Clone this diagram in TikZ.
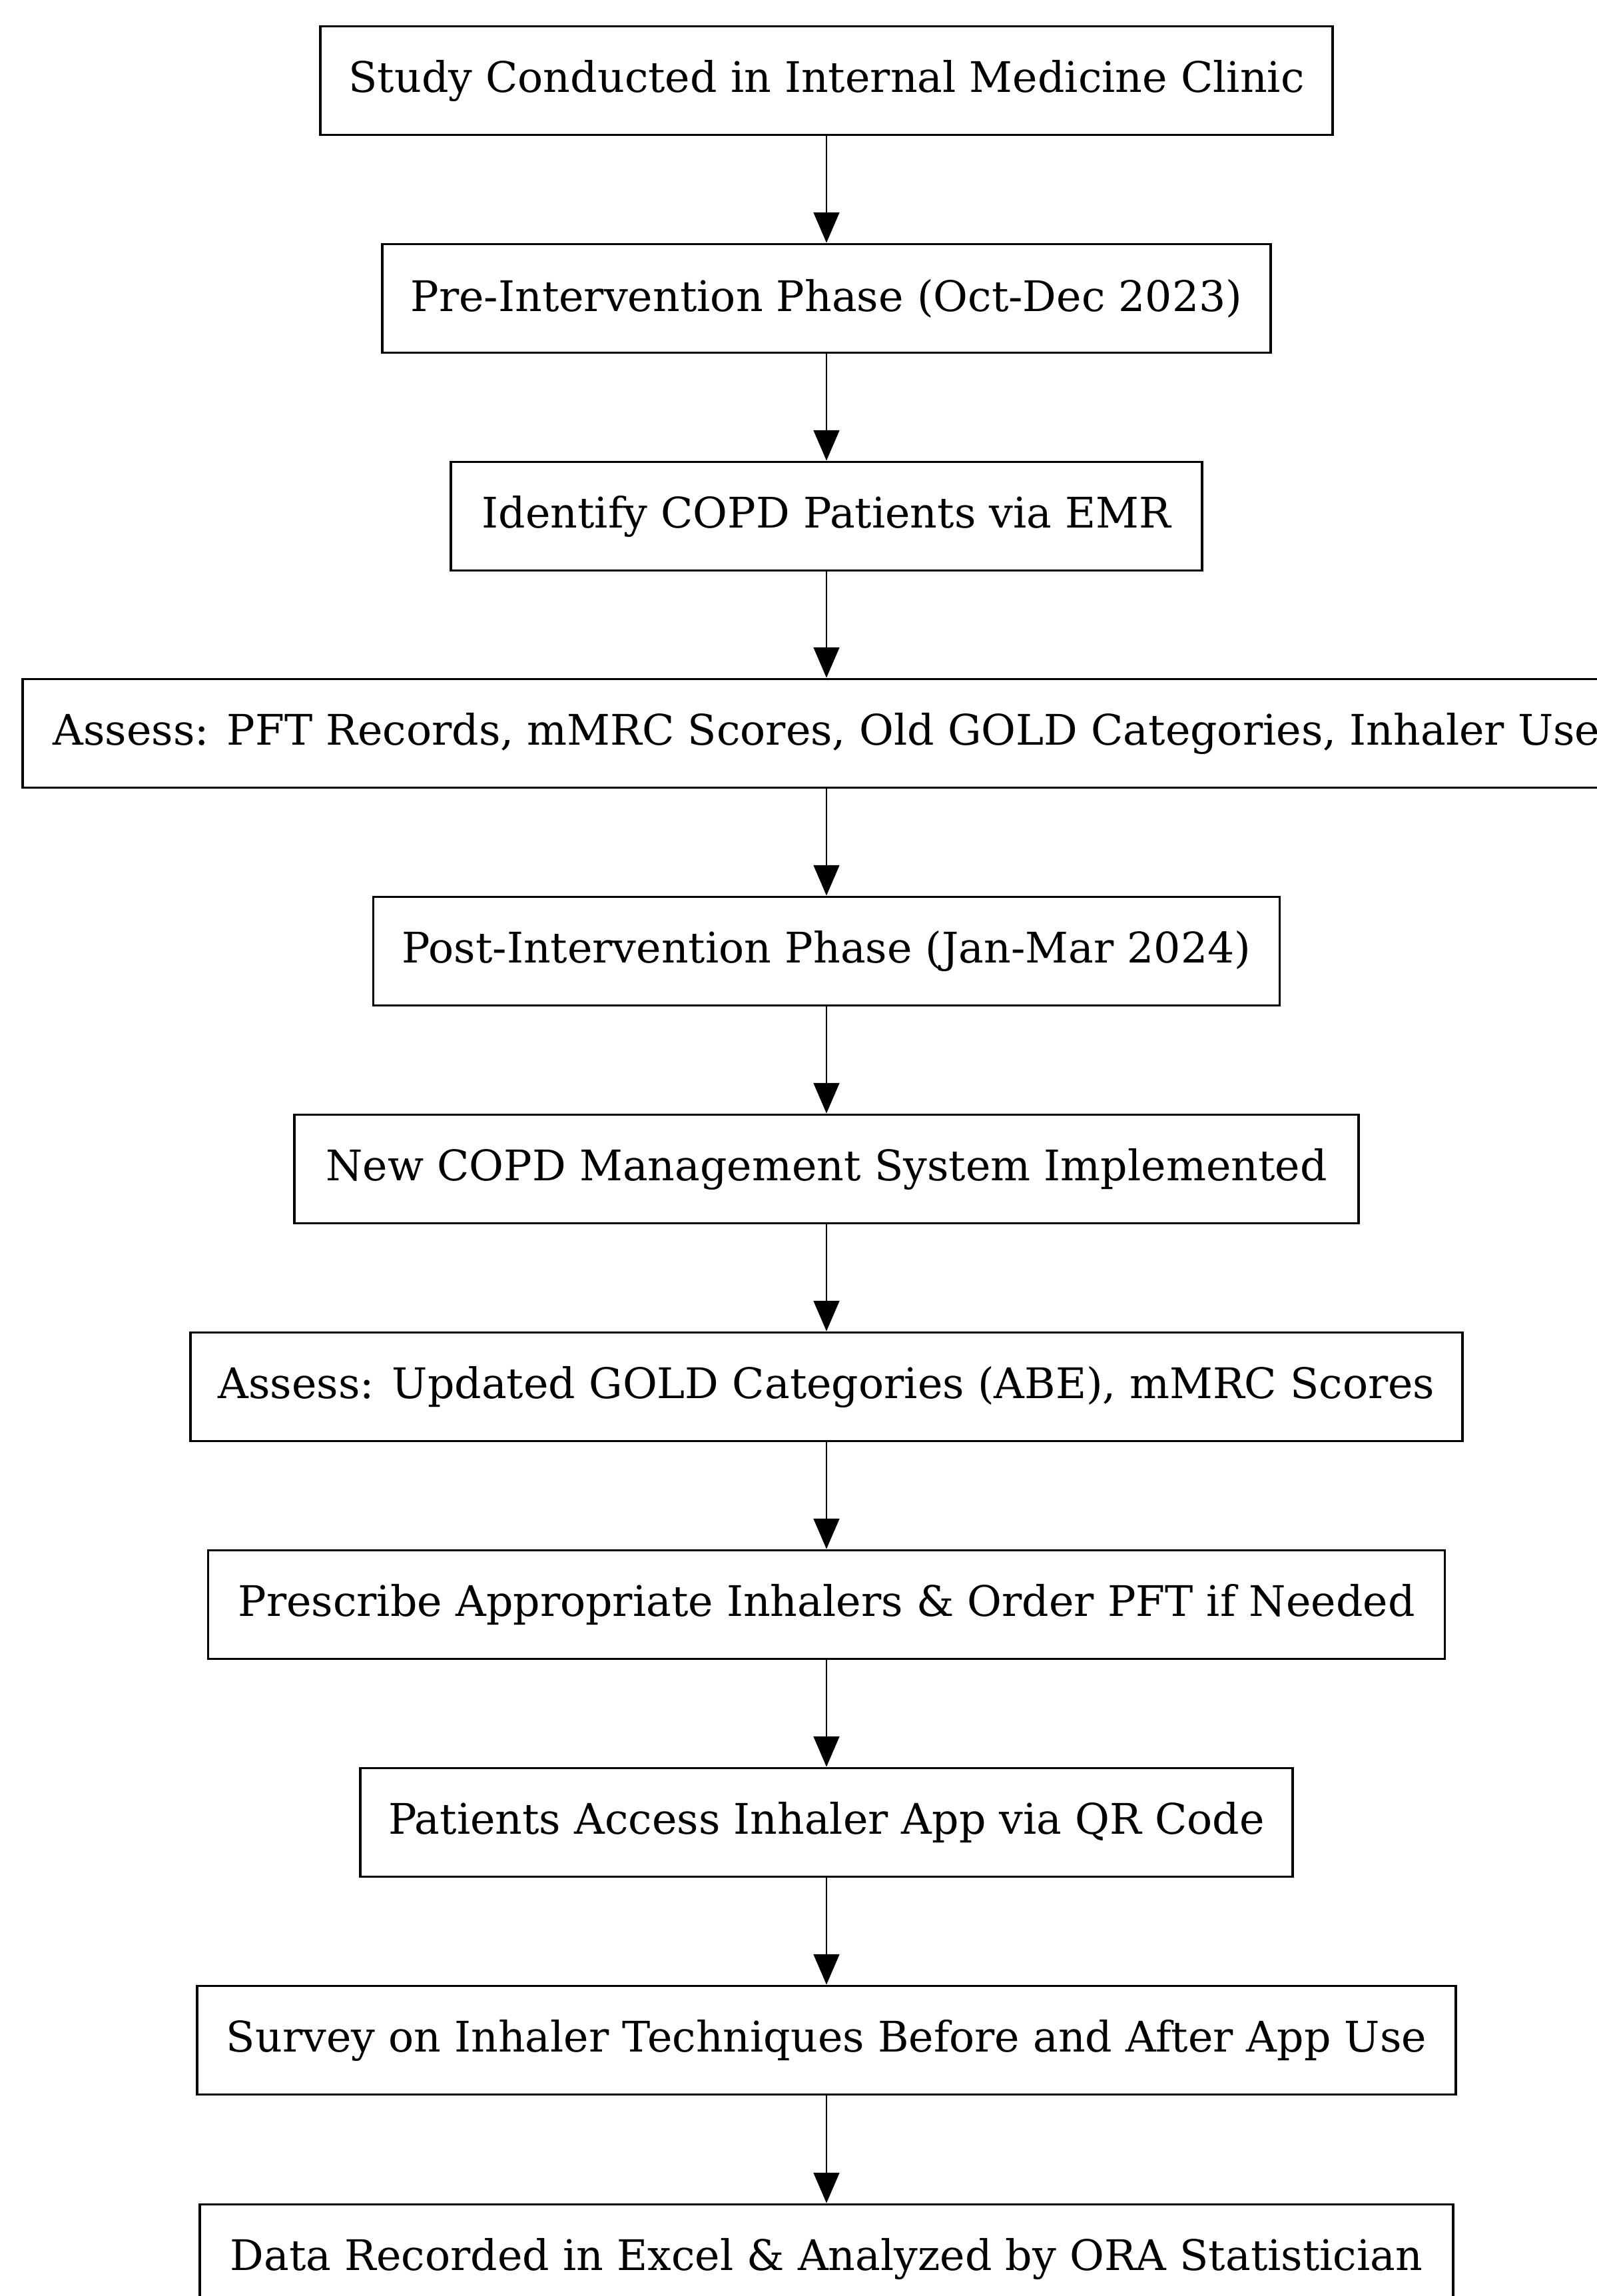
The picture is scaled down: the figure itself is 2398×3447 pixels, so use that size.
\documentclass[tikz,border=0pt]{standalone}
\usepackage{fontspec}
\setmainfont{DejaVu Serif}
\usetikzlibrary{arrows.meta}
\tikzset{
  stepbox/.style={draw=black, line width=1.1pt, fill=white, minimum height=163*0.01cm, inner sep=0pt, font=\fontsize{18}{21}\selectfont, anchor=center},
  flow/.style={line width=0.8pt, -{Triangle[length=13pt,width=11pt]}}
}
\begin{document}
\begin{tikzpicture}[x=0.01cm,y=-0.01cm]
\useasboundingbox[fill=white] (0,0) rectangle (2398,3447);
\node[stepbox, minimum width=1520*0.01cm] (b1) at (1241,121) {Study Conducted in Internal Medicine Clinic};
\node[stepbox, minimum width=1334*0.01cm] (b2) at (1241,448) {Pre-Intervention Phase (Oct-Dec 2023)};
\node[stepbox, minimum width=1128*0.01cm] (b3) at (1241,775) {Identify COPD Patients via EMR};
\node[stepbox, minimum width=2414*0.01cm] (b4) at (1241,1101) {Assess: PFT Records, mMRC Scores, Old GOLD Categories, Inhaler Use};
\node[stepbox, minimum width=1361*0.01cm] (b5) at (1241,1428) {Post-Intervention Phase (Jan-Mar 2024)};
\node[stepbox, minimum width=1598*0.01cm] (b6) at (1241,1755) {New COPD Management System Implemented};
\node[stepbox, minimum width=1910*0.01cm] (b7) at (1241,2082) {Assess: Updated GOLD Categories (ABE), mMRC Scores};
\node[stepbox, minimum width=1857*0.01cm] (b8) at (1241,2409) {Prescribe Appropriate Inhalers \& Order PFT if Needed};
\node[stepbox, minimum width=1400*0.01cm] (b9) at (1241,2736) {Patients Access Inhaler App via QR Code};
\node[stepbox, minimum width=1890*0.01cm] (b10) at (1241,3063) {Survey on Inhaler Techniques Before and After App Use};
\node[stepbox, minimum width=1882*0.01cm] (b11) at (1241,3391) {Data Recorded in Excel \& Analyzed by ORA Statistician};
\foreach \a/\b in {b1/b2,b2/b3,b3/b4,b4/b5,b5/b6,b6/b7,b7/b8,b8/b9,b9/b10,b10/b11}
  \draw[flow] (\a.south) -- (\b.north);
\end{tikzpicture}
\end{document}
